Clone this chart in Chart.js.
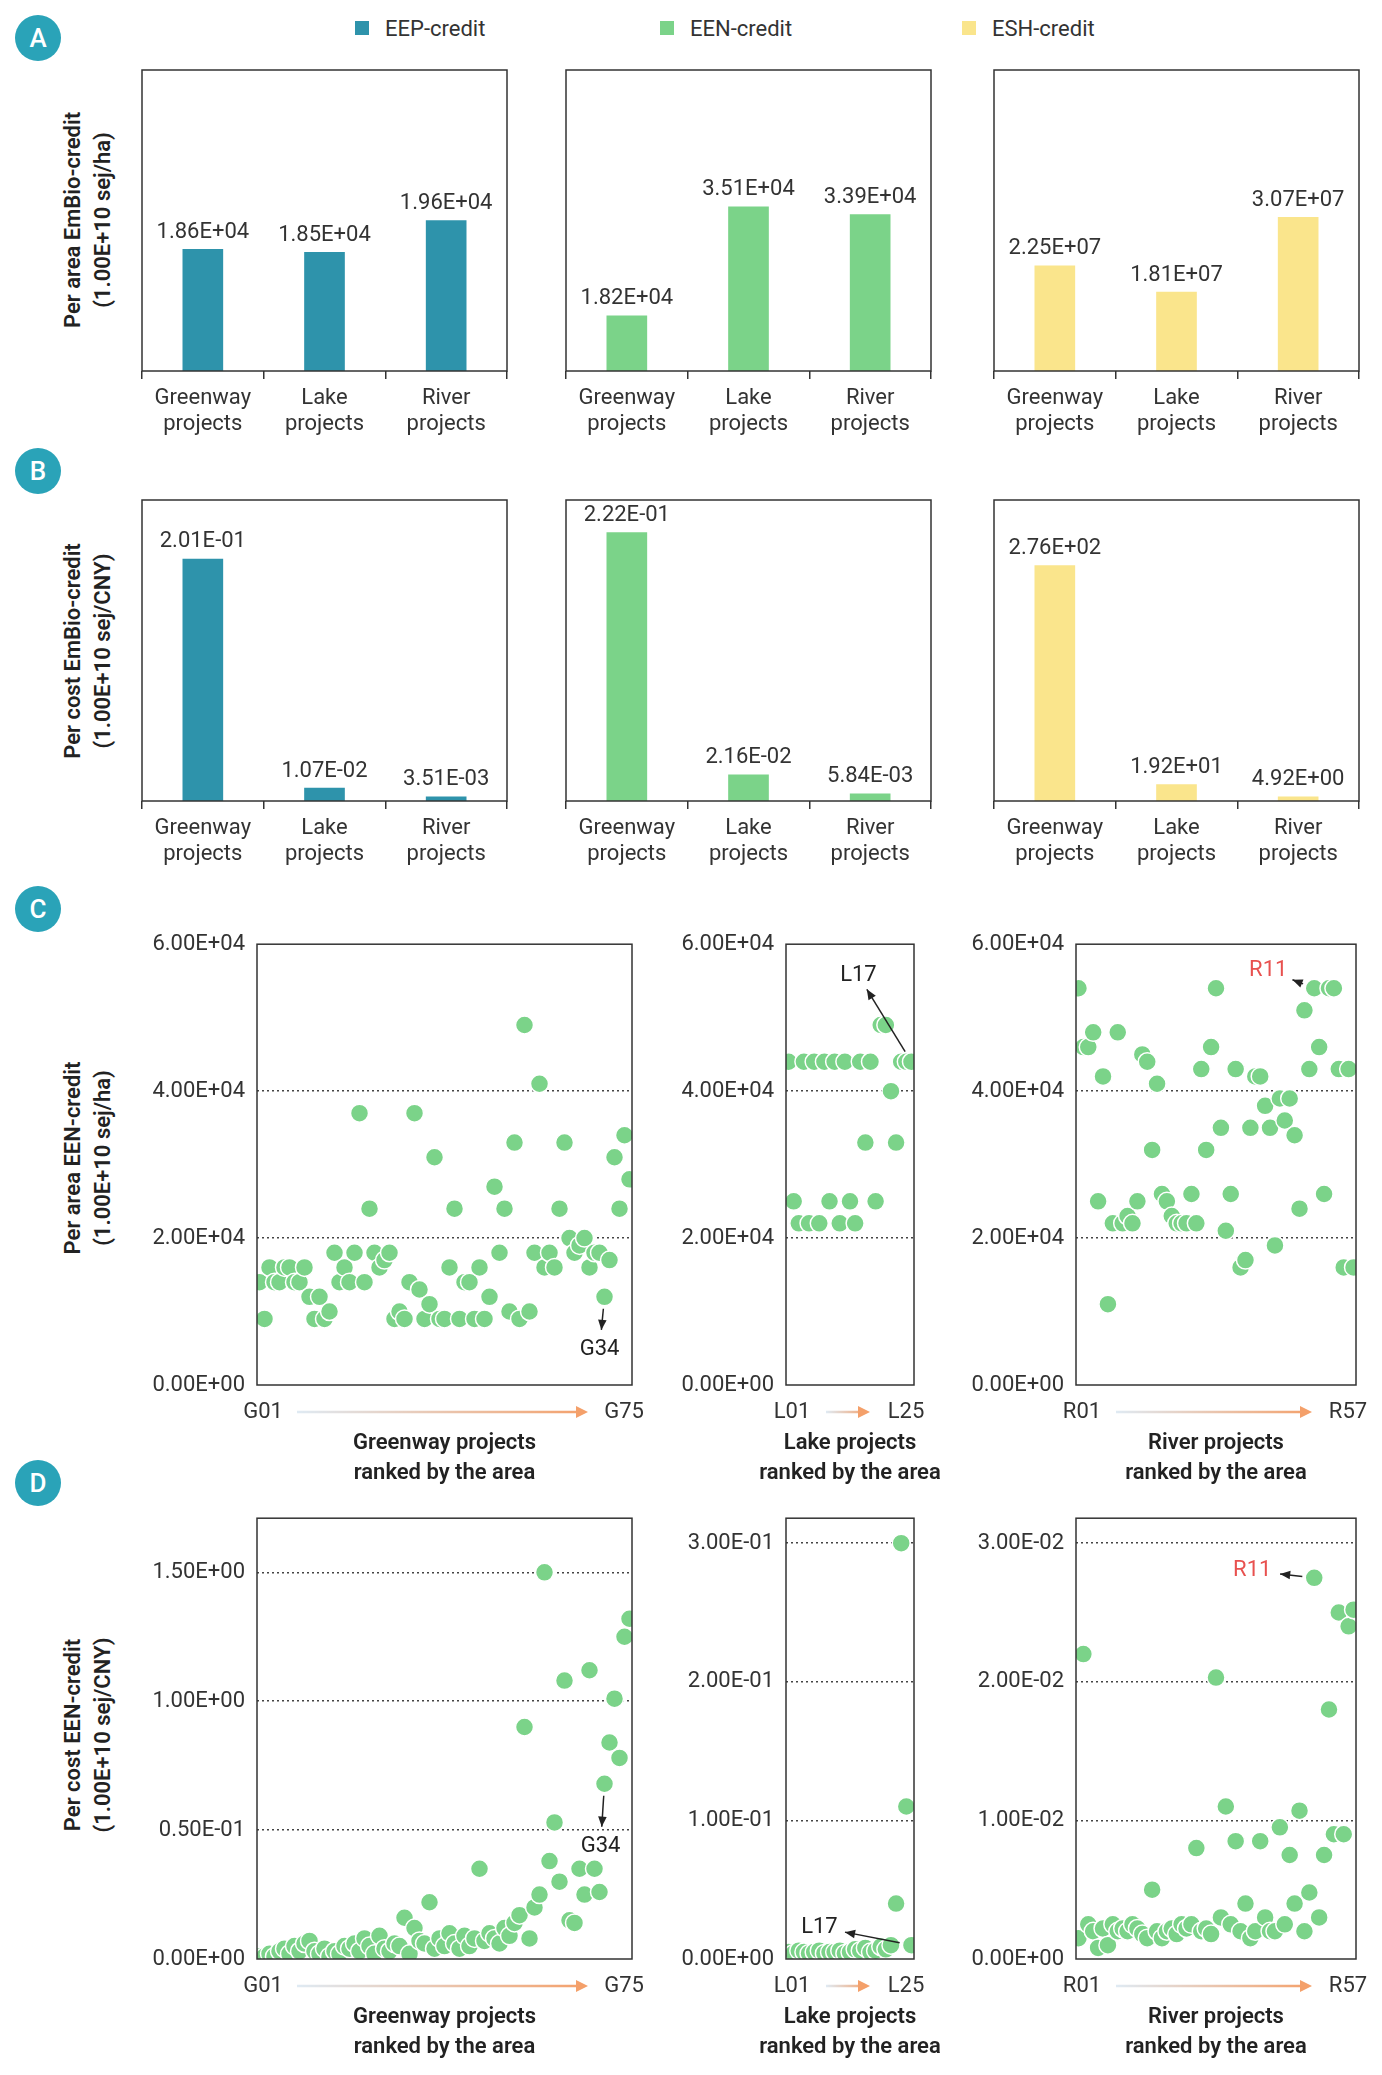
<!DOCTYPE html>
<html>
<head>
<meta charset="utf-8">
<script src="https://cdn.jsdelivr.net/npm/chart.js@4"></script>
<style>
  body { margin: 0; background: #fff; font-family: Roboto, sans-serif; }
  #page { position: relative; width: 1382px; height: 2075px; }
  .cv { position: absolute; }
  .badge { position: absolute; width: 46px; height: 46px; border-radius: 50%; background: #2aa3b8;
           color: #fff; font: 500 26px Roboto; display: flex; align-items: center; justify-content: center; }
  .ytitle { position: absolute; width: 500px; text-align: center; font: 600 22px Roboto; color: #222;
            line-height: 30px; transform: translate(-50%, -50%) rotate(-90deg); }
  .leg { position: absolute; top: 16px; font: 22px Roboto; color: #333; }
  .leg span { display: inline-block; width: 14px; height: 14px; margin-right: 16px; vertical-align: 1px; }
</style>
</head>
<body>
<div id="page">
  <div class="badge" style="left:15px;top:15px">A</div>
  <div class="badge" style="left:15px;top:448px">B</div>
  <div class="badge" style="left:15px;top:886px">C</div>
  <div class="badge" style="left:15px;top:1460px">D</div>
  <div class="leg" style="left:355px"><span style="background:#2e93ab"></span>EEP-credit</div>
  <div class="leg" style="left:660px"><span style="background:#7bd389"></span>EEN-credit</div>
  <div class="leg" style="left:962px"><span style="background:#fae58c"></span>ESH-credit</div>
  <div class="ytitle" style="left:88px;top:220px">Per area EmBio-credit<br>(1.00E+10 sej/ha)</div>
  <div class="ytitle" style="left:88px;top:651px">Per cost EmBio-credit<br>(1.00E+10 sej/CNY)</div>
  <div class="ytitle" style="left:88px;top:1158px">Per area EEN-credit<br>(1.00E+10 sej/ha)</div>
  <div class="ytitle" style="left:88px;top:1735px">Per cost EEN-credit<br>(1.00E+10 sej/CNY)</div>
</div>
<script>
// ---- data ----
const barCategories = [['Greenway', 'projects'], ['Lake', 'projects'], ['River', 'projects']];
const areaEEP = [1.86e4, 1.85e4, 1.96e4];
const areaEEN = [1.82e4, 3.51e4, 3.39e4];
const areaESH = [2.25e7, 1.81e7, 3.07e7];
const costEEP = [2.01e-1, 1.07e-2, 3.51e-3];
const costEEN = [2.22e-1, 2.16e-2, 5.84e-3];
const costESH = [2.76e2, 1.92e1, 4.92e0];

const greenwayArea = [1.4,0.9,1.6,1.4,1.4,1.6,1.6,1.4,1.4,1.6, 1.2,0.9,1.2,0.9,1.0,1.8,1.4,1.6,1.4,1.8,
  3.7,1.4,2.4,1.8,1.6,1.7,1.8,0.9,1.0,0.9, 1.4,3.7,1.3,0.9,1.1,3.1,0.9,0.9,1.6,2.4,
  0.9,1.4,1.4,0.9,1.6,0.9,1.2,2.7,1.8,2.4, 1.0,3.3,0.9,4.9,1.0,1.8,4.1,1.6,1.8,1.6,
  2.4,3.3,2.0,1.8,1.9,2.0,1.6,1.8,1.8,1.2, 1.7,3.1,2.4,3.4,2.8].map(v => v * 1e4);
const lakeArea = [4.4,2.5,2.2,4.4,2.2,4.4,2.2,4.4,2.5,4.4,2.2,4.4,2.5,2.2,4.4,3.3,4.4,2.5,4.9,4.9,
  4.0,3.3,4.4,4.4,4.4].map(v => v * 1e4);
const riverArea = [5.4,4.6,4.6,4.8,2.5,4.2,1.1,2.2,4.8,2.2, 2.3,2.2,2.5,4.5,4.4,3.2,4.1,2.6,2.5,2.3,
  2.2,2.2,2.2,2.6,2.2,4.3,3.2,4.6,5.4,3.5, 2.1,2.6,4.3,1.6,1.7,3.5,4.2,4.2,3.8,3.5,
  1.9,3.9,3.6,3.9,3.4,2.4,5.1,4.3,5.4,4.6, 2.6,5.4,5.4,4.3,1.6,4.3,1.6].map(v => v * 1e4);

const greenwayCost = [0.01,0.01,0.02,0.01,0.03,0.04,0.02,0.05,0.03,0.06, 0.07,0.03,0.02,0.04,0.01,0.03,0.02,0.05,0.04,0.06,
  0.03,0.08,0.05,0.02,0.09,0.04,0.03,0.06,0.05,0.16, 0.02,0.12,0.07,0.06,0.22,0.04,0.08,0.05,0.10,0.06,
  0.04,0.09,0.05,0.08,0.35,0.07,0.10,0.08,0.06,0.12, 0.09,0.14,0.17,0.90,0.08,0.20,0.25,1.50,0.38,0.53,
  0.30,1.08,0.15,0.14,0.35,0.25,1.12,0.35,0.26,0.68, 0.84,1.01,0.78,1.25,1.32];
const lakeCost = [0.005,0.004,0.006,0.005,0.004,0.005,0.006,0.004,0.005,0.005,0.006,0.004,0.005,0.007,0.006,
  0.008,0.005,0.006,0.009,0.007,0.010,0.040,0.300,0.110,0.010];
const riverCost = [0.15,2.2,0.25,0.2,0.08,0.22,0.1,0.25,0.2,0.22, 0.2,0.25,0.22,0.18,0.15,0.5,0.2,0.15,0.2,0.22,
  0.18,0.25,0.22,0.25,0.8,0.2,0.22,0.18,2.03,0.3, 1.1,0.25,0.85,0.2,0.4,0.15,0.2,0.85,0.3,0.2,
  0.2,0.95,0.25,0.75,0.4,1.07,0.2,0.48,2.75,0.3, 0.75,1.8,0.9,2.5,0.9,2.4,2.52].map(v => v * 1e-2);

const areaTicks = [0, 2e4, 4e4, 6e4];
const greenwayCostTicks = [0, 0.5, 1.0, 1.5];
const greenwayCostTickLabels = ['0.00E+00', '0.50E-01', '1.00E+00', '1.50E+00'];
const lakeCostTicks = [0, 0.1, 0.2, 0.3];
const riverCostTicks = [0, 0.01, 0.02, 0.03];

const C_EEP = '#2e93ab', C_EEN = '#7bd389', C_ESH = '#fae58c';
const FONT = 'Roboto, sans-serif';

function fmt(v) {
  if (v === 0) return '0.00E+00';
  let e = Math.floor(Math.log10(Math.abs(v)));
  let m = v / Math.pow(10, e);
  if (Math.round(m * 100) / 100 >= 10) { m /= 10; e += 1; }
  const s = e < 0 ? '-' : '+';
  return m.toFixed(2) + 'E' + s + String(Math.abs(e)).padStart(2, '0');
}

// box around plot area
const boxPlugin = {
  id: 'box',
  afterDraw(chart) {
    const a = chart.chartArea, c = chart.ctx;
    c.save(); c.strokeStyle = '#333'; c.lineWidth = 1.5;
    c.strokeRect(a.left, a.top, a.right - a.left, a.bottom - a.top);
    c.restore();
  }
};

// value labels above bars
const barLabelPlugin = {
  id: 'barLabels',
  afterDatasetsDraw(chart) {
    const c = chart.ctx, meta = chart.getDatasetMeta(0);
    c.save(); c.font = '22px ' + FONT; c.fillStyle = '#333'; c.textAlign = 'center'; c.textBaseline = 'bottom';
    meta.data.forEach((bar, i) => c.fillText(fmt(chart.data.datasets[0].data[i]), bar.x, bar.y - 6));
    c.restore();
  }
};

// ranked axis: start/end labels with gradient arrow, title, plus annotation arrow
const rankPlugin = {
  id: 'rank',
  afterDraw(chart, args, o) {
    const a = chart.chartArea, c = chart.ctx;
    c.save();
    c.font = '22px ' + FONT; c.fillStyle = '#333'; c.textAlign = 'center'; c.textBaseline = 'middle';
    const y = a.bottom + 27;
    c.fillText(o.first, a.left + 6, y);
    c.fillText(o.last, a.right - 8, y);
    const x0 = a.left + 40, x1 = a.right - 44;
    const g = c.createLinearGradient(x0, 0, x1, 0);
    g.addColorStop(0, '#dfeaf3'); g.addColorStop(1, '#f4a06a');
    c.strokeStyle = g; c.lineWidth = 2.5;
    c.beginPath(); c.moveTo(x0, y); c.lineTo(x1 - 6, y); c.stroke();
    c.fillStyle = '#f4a06a';
    c.beginPath(); c.moveTo(x1, y); c.lineTo(x1 - 12, y - 6); c.lineTo(x1 - 12, y + 6); c.closePath(); c.fill();
    // axis title
    c.fillStyle = '#222'; c.font = '600 22px ' + FONT;
    const cx = (a.left + a.right) / 2;
    c.fillText(o.title[0], cx, a.bottom + 58);
    c.fillText(o.title[1], cx, a.bottom + 88);
    if (o.note) {
      const n = o.note, pt = chart.getDatasetMeta(0).data[n.index];
      const lx = pt.x + n.dx, ly = pt.y + n.dy;
      const d = Math.hypot(n.dx, n.dy), ux = n.dx / d, uy = n.dy / d;
      const sx = pt.x + ux * 12, sy = pt.y + uy * 12;
      const ex = lx - ux * n.gap, ey = ly - uy * n.gap;
      c.strokeStyle = '#222'; c.fillStyle = '#222'; c.lineWidth = 1.5;
      c.beginPath(); c.moveTo(sx, sy); c.lineTo(ex, ey); c.stroke();
      const ang = Math.atan2(ey - sy, ex - sx);
      c.beginPath(); c.moveTo(ex, ey);
      c.lineTo(ex - 11 * Math.cos(ang - 0.4), ey - 11 * Math.sin(ang - 0.4));
      c.lineTo(ex - 11 * Math.cos(ang + 0.4), ey - 11 * Math.sin(ang + 0.4));
      c.closePath(); c.fill();
      c.fillStyle = n.color; c.font = '22px ' + FONT;
      c.fillText(n.text, lx, ly);
    }
    c.restore();
  }
};

function makeCanvas(left, top, w, h) {
  const d = document.createElement('div');
  d.className = 'cv';
  d.style.cssText = `left:${left}px;top:${top}px;width:${w}px;height:${h}px`;
  const cv = document.createElement('canvas');
  d.appendChild(cv);
  document.getElementById('page').appendChild(d);
  return cv;
}

function barChart(plotLeft, plotTop, values, color, yMin, yMax) {
  const W = 365, H = 301, pad = 12, B = 82;
  const cv = makeCanvas(plotLeft - pad, plotTop - pad, W + 2 * pad, H + pad + B);
  new Chart(cv, {
    type: 'bar',
    data: { labels: barCategories, datasets: [{ data: values, backgroundColor: color, barThickness: 40 }] },
    options: {
      responsive: true, maintainAspectRatio: false, animation: false,
      layout: { padding: { left: pad, right: pad, top: pad } },
      plugins: { legend: { display: false }, tooltip: { enabled: false } },
      scales: {
        x: {
          afterFit(s) { s.height = B; },
          border: { display: false },
          grid: { offset: true, drawOnChartArea: false, tickLength: 8, color: '#333', lineWidth: 1.5 },
          ticks: { color: '#333', font: { family: FONT, size: 22 }, padding: 6 }
        },
        y: { display: false, min: yMin, max: yMax }
      }
    },
    plugins: [boxPlugin, barLabelPlugin]
  });
}

function scatterChart(plotLeft, plotTop, plotW, values, yMax, ticks, tickLabels, first, last, title, note) {
  const H = 452, L = 150, R = 70, T = 14, B = 112;
  const cv = makeCanvas(plotLeft - L, plotTop - T, plotW + L + R, H + T + B);
  const n = values.length;
  new Chart(cv, {
    type: 'scatter',
    data: { datasets: [{
      data: values.map((v, i) => ({ x: i + 1, y: v })),
      backgroundColor: C_EEN, borderColor: '#fff', borderWidth: 1.5, pointRadius: 9
    }] },
    options: {
      responsive: true, maintainAspectRatio: false, animation: false,
      layout: { padding: { right: R, top: T } },
      plugins: { legend: { display: false }, tooltip: { enabled: false }, rank: { first, last, note, title } },
      scales: {
        x: {
          type: 'linear', min: 0.5, max: n + 0.5,
          afterFit(s) { s.height = B; },
          border: { display: false }, grid: { display: false }, ticks: { display: false }
        },
        y: {
          min: 0, max: yMax,
          afterFit(s) { s.width = L; },
          afterBuildTicks(s) { s.ticks = ticks.map(v => ({ value: v })); },
          border: { display: false, dash: [2, 3] },
          grid: {
            drawTicks: false, lineWidth: 1.5,
            color: ctx => (ctx.tick && ctx.tick.value > 0 && ctx.tick.value < yMax * 0.99) ? '#444' : 'rgba(0,0,0,0)'
          },
          ticks: {
            color: '#333', font: { family: FONT, size: 22 }, padding: 12,
            callback: (v, i) => tickLabels ? tickLabels[i] : fmt(v)
          }
        }
      }
    },
    plugins: [boxPlugin, rankPlugin]
  });
}

// ---- rows A & B ----
barChart(142, 70, areaEEP, C_EEP, 1.44e4, 2.48e4);
barChart(566, 70, areaEEN, C_EEN, 0.965e4, 5.63e4);
barChart(994, 70, areaESH, C_ESH, 0.48e7, 5.55e7);
barChart(142, 500, costEEP, C_EEP, 0, 0.25);
barChart(566, 500, costEEN, C_EEN, 0, 0.249);
barChart(994, 500, costESH, C_ESH, 0, 353);

// ---- row C ----
const gT = ['Greenway projects', 'ranked by the area'];
const lT = ['Lake projects', 'ranked by the area'];
const rT = ['River projects', 'ranked by the area'];
scatterChart(257, 933, 375, greenwayArea, 6e4, areaTicks, null, 'G01', 'G75', gT,
  { index: 69, text: 'G34', color: '#222', dx: -5, dy: 53, gap: 20 });
scatterChart(786, 933, 128, lakeArea, 6e4, areaTicks, null, 'L01', 'L25', lT,
  { index: 24, text: 'L17', color: '#222', dx: -53, dy: -86, gap: 16 });
scatterChart(1076, 933, 280, riverArea, 6e4, areaTicks, null, 'R01', 'R57', rT,
  { index: 48, text: 'R11', color: '#e8514f', dx: -46, dy: -18, gap: 26 });

// ---- row D ----
scatterChart(257, 1507, 375, greenwayCost, 1.71, greenwayCostTicks, greenwayCostTickLabels, 'G01', 'G75', gT,
  { index: 69, text: 'G34', color: '#222', dx: -4, dy: 63, gap: 20 });
scatterChart(786, 1507, 128, lakeCost, 0.318, lakeCostTicks, null, 'L01', 'L25', lT,
  { index: 24, text: 'L17', color: '#222', dx: -92, dy: -18, gap: 26 });
scatterChart(1076, 1507, 280, riverCost, 0.0318, riverCostTicks, null, 'R01', 'R57', rT,
  { index: 48, text: 'R11', color: '#e8514f', dx: -62, dy: -7, gap: 28 });
</script>
</body>
</html>
